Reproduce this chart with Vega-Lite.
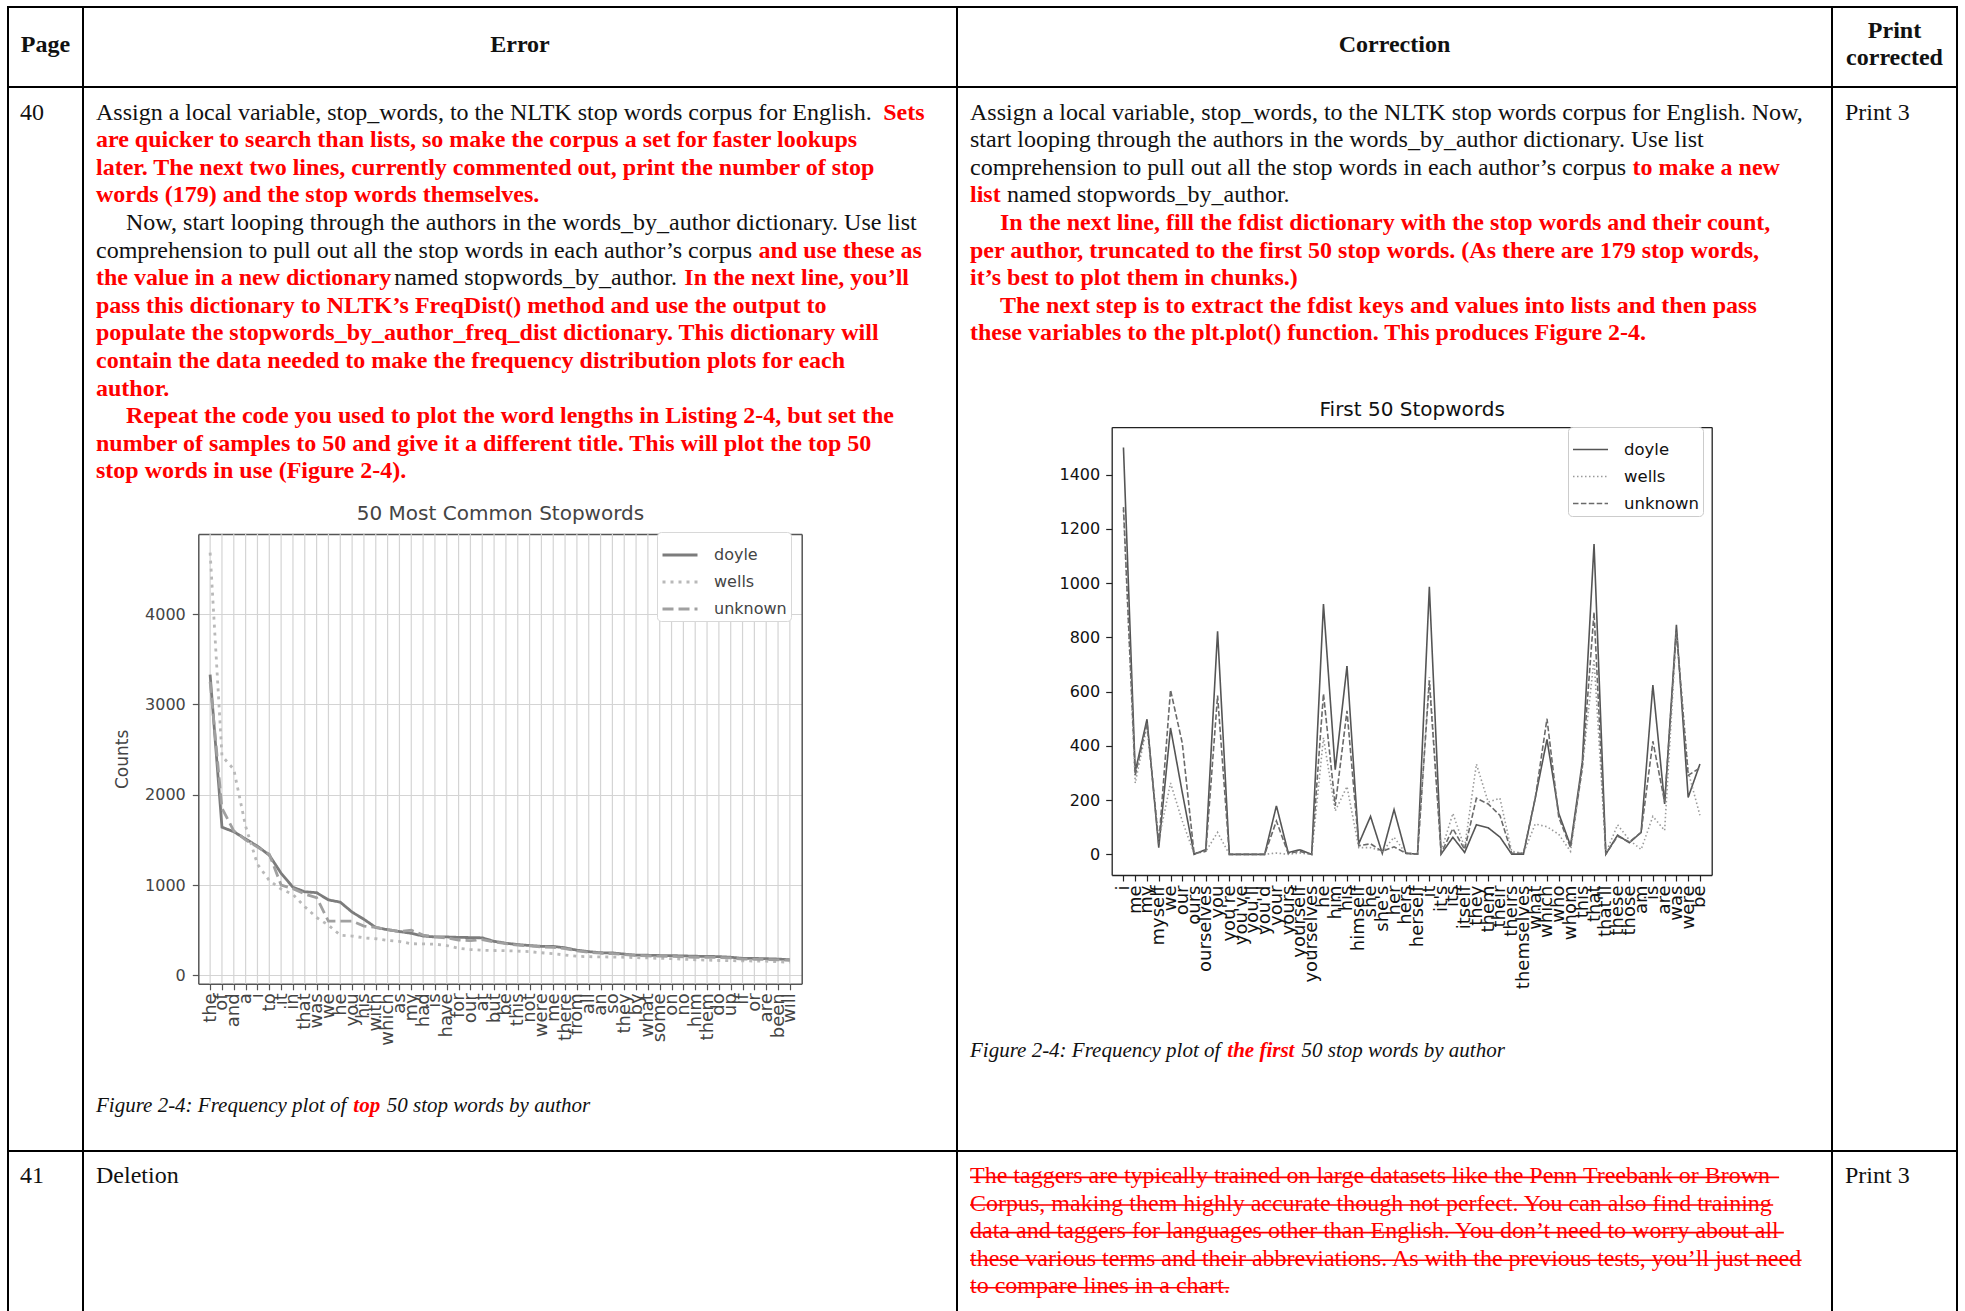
{
  "$schema": "https://vega.github.io/schema/vega-lite/v6.json",
  "background": "white",
  "padding": {"left": 7, "top": 6, "right": 0, "bottom": 0},
  "config": {
    "view": {"stroke": "#000", "strokeWidth": 2},
    "text": {"font": "Liberation Serif", "fontSize": 24, "align": "left", "baseline": "middle", "color": "#111"},
    "axis": {"labelFont": "DejaVu Sans", "titleFont": "DejaVu Sans"},
    "legend": {"labelFont": "DejaVu Sans"}
  },
  "resolve": {"scale": {"color": "independent", "strokeDash": "independent"}},
  "datasets": {
    "text": [
      {"cell": "hpage", "line": 1.5, "seg": 1, "kind": "head", "text": "Page"},
      {"cell": "herr", "line": 1.5, "seg": 1, "kind": "head", "text": "Error"},
      {"cell": "hcorr", "line": 1.5, "seg": 1, "kind": "head", "text": "Correction"},
      {"cell": "hprint", "line": 1, "seg": 1, "kind": "head", "text": "Print"},
      {"cell": "hprint", "line": 2, "seg": 1, "kind": "head", "text": "corrected"},
      {"cell": "p40", "line": 1, "seg": 1, "kind": "plain", "text": "40"},
      {"cell": "r40", "line": 1, "seg": 1, "kind": "plain", "text": "Print 3"},
      {"cell": "e40", "line": 1, "seg": 1, "kind": "plain", "text": "Assign a local variable, stop_words, to the NLTK stop words corpus for English."},
      {"cell": "e40", "line": 1, "seg": 2, "kind": "fix", "text": "Sets"},
      {"cell": "e40", "line": 2, "seg": 1, "kind": "fix", "text": "are quicker to search than lists, so make the corpus a set for faster lookups"},
      {"cell": "e40", "line": 3, "seg": 1, "kind": "fix", "text": "later. The next two lines, currently commented out, print the number of stop"},
      {"cell": "e40", "line": 4, "seg": 1, "kind": "fix", "text": "words (179) and the stop words themselves."},
      {"cell": "e40", "line": 5, "seg": 1, "kind": "plain", "indent": 1, "text": "Now, start looping through the authors in the words_by_author dictionary. Use list"},
      {"cell": "e40", "line": 6, "seg": 1, "kind": "plain", "text": "comprehension to pull out all the stop words in each author’s corpus"},
      {"cell": "e40", "line": 6, "seg": 2, "kind": "fix", "text": "and use these as"},
      {"cell": "e40", "line": 7, "seg": 1, "kind": "fix", "text": "the value in a new dictionary"},
      {"cell": "e40", "line": 7, "seg": 2, "kind": "plain", "text": "named stopwords_by_author."},
      {"cell": "e40", "line": 7, "seg": 3, "kind": "fix", "text": "In the next line, you’ll"},
      {"cell": "e40", "line": 8, "seg": 1, "kind": "fix", "text": "pass this dictionary to NLTK’s FreqDist() method and use the output to"},
      {"cell": "e40", "line": 9, "seg": 1, "kind": "fix", "text": "populate the stopwords_by_author_freq_dist dictionary. This dictionary will"},
      {"cell": "e40", "line": 10, "seg": 1, "kind": "fix", "text": "contain the data needed to make the frequency distribution plots for each"},
      {"cell": "e40", "line": 11, "seg": 1, "kind": "fix", "text": "author."},
      {"cell": "e40", "line": 12, "seg": 1, "kind": "fix", "indent": 1, "text": "Repeat the code you used to plot the word lengths in Listing 2-4, but set the"},
      {"cell": "e40", "line": 13, "seg": 1, "kind": "fix", "text": "number of samples to 50 and give it a different title. This will plot the top 50"},
      {"cell": "e40", "line": 14, "seg": 1, "kind": "fix", "text": "stop words in use (Figure 2-4)."},
      {"cell": "e40", "line": 37, "seg": 1, "kind": "cap", "text": "Figure 2-4: Frequency plot of"},
      {"cell": "e40", "line": 37, "seg": 2, "kind": "capfix", "text": "top"},
      {"cell": "e40", "line": 37, "seg": 3, "kind": "cap", "text": "50 stop words by author"},
      {"cell": "c40", "line": 1, "seg": 1, "kind": "plain", "text": "Assign a local variable, stop_words, to the NLTK stop words corpus for English. Now,"},
      {"cell": "c40", "line": 2, "seg": 1, "kind": "plain", "text": "start looping through the authors in the words_by_author dictionary. Use list"},
      {"cell": "c40", "line": 3, "seg": 1, "kind": "plain", "text": "comprehension to pull out all the stop words in each author’s corpus"},
      {"cell": "c40", "line": 3, "seg": 2, "kind": "fix", "text": "to make a new"},
      {"cell": "c40", "line": 4, "seg": 1, "kind": "fix", "text": "list"},
      {"cell": "c40", "line": 4, "seg": 2, "kind": "plain", "text": "named stopwords_by_author."},
      {"cell": "c40", "line": 5, "seg": 1, "kind": "fix", "indent": 1, "text": "In the next line, fill the fdist dictionary with the stop words and their count,"},
      {"cell": "c40", "line": 6, "seg": 1, "kind": "fix", "text": "per author, truncated to the first 50 stop words. (As there are 179 stop words,"},
      {"cell": "c40", "line": 7, "seg": 1, "kind": "fix", "text": "it’s best to plot them in chunks.)"},
      {"cell": "c40", "line": 8, "seg": 1, "kind": "fix", "indent": 1, "text": "The next step is to extract the fdist keys and values into lists and then pass"},
      {"cell": "c40", "line": 9, "seg": 1, "kind": "fix", "text": "these variables to the plt.plot() function. This produces Figure 2-4."},
      {"cell": "c40", "line": 35, "seg": 1, "kind": "cap", "text": "Figure 2-4: Frequency plot of"},
      {"cell": "c40", "line": 35, "seg": 2, "kind": "capfix", "text": "the first"},
      {"cell": "c40", "line": 35, "seg": 3, "kind": "cap", "text": "50 stop words by author"},
      {"cell": "p41", "line": 1, "seg": 1, "kind": "plain", "text": "41"},
      {"cell": "e41", "line": 1, "seg": 1, "kind": "plain", "text": "Deletion"},
      {"cell": "c41", "line": 1, "seg": 1, "kind": "del", "text": "The taggers are typically trained on large datasets like the Penn Treebank or Brown"},
      {"cell": "c41", "line": 2, "seg": 1, "kind": "del", "text": "Corpus, making them highly accurate though not perfect. You can also find training"},
      {"cell": "c41", "line": 3, "seg": 1, "kind": "del", "text": "data and taggers for languages other than English. You don’t need to worry about all"},
      {"cell": "c41", "line": 4, "seg": 1, "kind": "del", "text": "these various terms and their abbreviations. As with the previous tests, you’ll just need"},
      {"cell": "c41", "line": 5, "seg": 1, "kind": "del", "text": "to compare lines in a chart."},
      {"cell": "r41", "line": 1, "seg": 1, "kind": "plain", "text": "Print 3"}
    ],
    "chart1": [
      {"idx": 0, "word": "the", "doyle": 3330, "wells": 4680, "unknown": 3250},
      {"idx": 1, "word": "of", "doyle": 1640, "wells": 2430, "unknown": 1850},
      {"idx": 2, "word": "and", "doyle": 1590, "wells": 2280, "unknown": 1600},
      {"idx": 3, "word": "a", "doyle": 1510, "wells": 1650, "unknown": 1500},
      {"idx": 4, "word": "i", "doyle": 1430, "wells": 1230, "unknown": 1420},
      {"idx": 5, "word": "to", "doyle": 1330, "wells": 1050, "unknown": 1340},
      {"idx": 6, "word": "it", "doyle": 1130, "wells": 955, "unknown": 1000},
      {"idx": 7, "word": "in", "doyle": 975, "wells": 895, "unknown": 960},
      {"idx": 8, "word": "that", "doyle": 925, "wells": 760, "unknown": 900},
      {"idx": 9, "word": "was", "doyle": 915, "wells": 640, "unknown": 860},
      {"idx": 10, "word": "we", "doyle": 835, "wells": 555, "unknown": 600},
      {"idx": 11, "word": "he", "doyle": 810, "wells": 445, "unknown": 600},
      {"idx": 12, "word": "you", "doyle": 700, "wells": 435, "unknown": 600},
      {"idx": 13, "word": "his", "doyle": 620, "wells": 415, "unknown": 545},
      {"idx": 14, "word": "with", "doyle": 530, "wells": 405, "unknown": 530},
      {"idx": 15, "word": "which", "doyle": 505, "wells": 387, "unknown": 505},
      {"idx": 16, "word": "as", "doyle": 485, "wells": 375, "unknown": 485},
      {"idx": 17, "word": "my", "doyle": 465, "wells": 350, "unknown": 500},
      {"idx": 18, "word": "had", "doyle": 435, "wells": 348, "unknown": 445},
      {"idx": 19, "word": "is", "doyle": 425, "wells": 345, "unknown": 426},
      {"idx": 20, "word": "have", "doyle": 425, "wells": 330, "unknown": 414},
      {"idx": 21, "word": "for", "doyle": 420, "wells": 300, "unknown": 390},
      {"idx": 22, "word": "our", "doyle": 418, "wells": 285, "unknown": 385},
      {"idx": 23, "word": "at", "doyle": 415, "wells": 278, "unknown": 395},
      {"idx": 24, "word": "but", "doyle": 376, "wells": 275, "unknown": 370},
      {"idx": 25, "word": "be", "doyle": 356, "wells": 272, "unknown": 350},
      {"idx": 26, "word": "this", "doyle": 340, "wells": 268, "unknown": 335},
      {"idx": 27, "word": "not", "doyle": 330, "wells": 262, "unknown": 325},
      {"idx": 28, "word": "were", "doyle": 321, "wells": 250, "unknown": 315},
      {"idx": 29, "word": "me", "doyle": 320, "wells": 239, "unknown": 310},
      {"idx": 30, "word": "there", "doyle": 305, "wells": 225, "unknown": 295},
      {"idx": 31, "word": "from", "doyle": 278, "wells": 211, "unknown": 270},
      {"idx": 32, "word": "all", "doyle": 262, "wells": 206, "unknown": 255},
      {"idx": 33, "word": "an", "doyle": 250, "wells": 204, "unknown": 245},
      {"idx": 34, "word": "so", "doyle": 248, "wells": 202, "unknown": 240},
      {"idx": 35, "word": "they", "doyle": 235, "wells": 200, "unknown": 230},
      {"idx": 36, "word": "by", "doyle": 223, "wells": 196, "unknown": 220},
      {"idx": 37, "word": "what", "doyle": 222, "wells": 192, "unknown": 215},
      {"idx": 38, "word": "some", "doyle": 219, "wells": 188, "unknown": 212},
      {"idx": 39, "word": "on", "doyle": 218, "wells": 184, "unknown": 210},
      {"idx": 40, "word": "no", "doyle": 215, "wells": 178, "unknown": 205},
      {"idx": 41, "word": "him", "doyle": 211, "wells": 172, "unknown": 200},
      {"idx": 42, "word": "them", "doyle": 210, "wells": 168, "unknown": 200},
      {"idx": 43, "word": "do", "doyle": 207, "wells": 164, "unknown": 197},
      {"idx": 44, "word": "up", "doyle": 200, "wells": 162, "unknown": 192},
      {"idx": 45, "word": "if", "doyle": 188, "wells": 160, "unknown": 180},
      {"idx": 46, "word": "or", "doyle": 187, "wells": 158, "unknown": 178},
      {"idx": 47, "word": "are", "doyle": 184, "wells": 157, "unknown": 175},
      {"idx": 48, "word": "been", "doyle": 180, "wells": 150, "unknown": 172},
      {"idx": 49, "word": "will", "doyle": 172, "wells": 145, "unknown": 165}
    ],
    "chart2": [
      {"idx": 0, "word": "i", "doyle": 1500, "wells": 1270, "unknown": 1280},
      {"idx": 1, "word": "me", "doyle": 305, "wells": 263, "unknown": 291},
      {"idx": 2, "word": "my", "doyle": 498, "wells": 473, "unknown": 487},
      {"idx": 3, "word": "myself", "doyle": 25, "wells": 53, "unknown": 39},
      {"idx": 4, "word": "we", "doyle": 466, "wells": 263, "unknown": 606},
      {"idx": 5, "word": "our", "doyle": 228, "wells": 123, "unknown": 410},
      {"idx": 6, "word": "ours", "doyle": 0, "wells": 4, "unknown": 4},
      {"idx": 7, "word": "ourselves", "doyle": 18, "wells": 11, "unknown": 11},
      {"idx": 8, "word": "you", "doyle": 822, "wells": 81, "unknown": 585},
      {"idx": 9, "word": "you're", "doyle": 0, "wells": 0, "unknown": 0},
      {"idx": 10, "word": "you've", "doyle": 0, "wells": 0, "unknown": 0},
      {"idx": 11, "word": "you'll", "doyle": 0, "wells": 0, "unknown": 0},
      {"idx": 12, "word": "you'd", "doyle": 0, "wells": 0, "unknown": 0},
      {"idx": 13, "word": "your", "doyle": 179, "wells": 5, "unknown": 123},
      {"idx": 14, "word": "yours", "doyle": 7, "wells": 0, "unknown": 4},
      {"idx": 15, "word": "yourself", "doyle": 17, "wells": 5, "unknown": 11},
      {"idx": 16, "word": "yourselves", "doyle": 0, "wells": 0, "unknown": 0},
      {"idx": 17, "word": "he", "doyle": 923, "wells": 430, "unknown": 592},
      {"idx": 18, "word": "him", "doyle": 312, "wells": 160, "unknown": 179},
      {"idx": 19, "word": "his", "doyle": 694, "wells": 250, "unknown": 529},
      {"idx": 20, "word": "himself", "doyle": 39, "wells": 25, "unknown": 32},
      {"idx": 21, "word": "she", "doyle": 140, "wells": 25, "unknown": 39},
      {"idx": 22, "word": "she's", "doyle": 4, "wells": 11, "unknown": 11},
      {"idx": 23, "word": "her", "doyle": 165, "wells": 63, "unknown": 28},
      {"idx": 24, "word": "hers", "doyle": 4, "wells": 4, "unknown": 4},
      {"idx": 25, "word": "herself", "doyle": 1, "wells": 1, "unknown": 1},
      {"idx": 26, "word": "it", "doyle": 986, "wells": 654, "unknown": 640},
      {"idx": 27, "word": "it's", "doyle": 1, "wells": 11, "unknown": 4},
      {"idx": 28, "word": "its", "doyle": 63, "wells": 151, "unknown": 95},
      {"idx": 29, "word": "itself", "doyle": 7, "wells": 25, "unknown": 18},
      {"idx": 30, "word": "they", "doyle": 109, "wells": 333, "unknown": 207},
      {"idx": 31, "word": "them", "doyle": 98, "wells": 193, "unknown": 186},
      {"idx": 32, "word": "their", "doyle": 64, "wells": 207, "unknown": 144},
      {"idx": 33, "word": "theirs", "doyle": 1, "wells": 11, "unknown": 4},
      {"idx": 34, "word": "themselves", "doyle": 1, "wells": 4, "unknown": 4},
      {"idx": 35, "word": "what", "doyle": 207, "wells": 112, "unknown": 207},
      {"idx": 36, "word": "which", "doyle": 424, "wells": 102, "unknown": 500},
      {"idx": 37, "word": "who", "doyle": 151, "wells": 74, "unknown": 137},
      {"idx": 38, "word": "whom", "doyle": 32, "wells": 11, "unknown": 25},
      {"idx": 39, "word": "this", "doyle": 340, "wells": 319, "unknown": 319},
      {"idx": 40, "word": "that", "doyle": 1144, "wells": 720, "unknown": 892},
      {"idx": 41, "word": "that'll", "doyle": 1, "wells": 4, "unknown": 1},
      {"idx": 42, "word": "these", "doyle": 71, "wells": 109, "unknown": 67},
      {"idx": 43, "word": "those", "doyle": 43, "wells": 53, "unknown": 46},
      {"idx": 44, "word": "am", "doyle": 81, "wells": 18, "unknown": 81},
      {"idx": 45, "word": "is", "doyle": 624, "wells": 140, "unknown": 417},
      {"idx": 46, "word": "are", "doyle": 186, "wells": 88, "unknown": 193},
      {"idx": 47, "word": "was", "doyle": 846, "wells": 822, "unknown": 822},
      {"idx": 48, "word": "were", "doyle": 210, "wells": 305, "unknown": 291},
      {"idx": 49, "word": "be", "doyle": 333, "wells": 144, "unknown": 319}
    ]
  },
  "columns": 4,
  "spacing": 0,
  "bounds": "flush",
  "concat": [
    {"width": 75, "height": 80, "data": {"name": "text"}, "transform": [{"filter": "datum.cell == 'hpage'"}],
     "mark": {"type": "text", "align": "center", "fontWeight": "bold"},
     "encoding": {"x": {"datum": 0.5, "type": "quantitative", "scale": {"domain": [0, 1], "range": [0, 75]}, "axis": null},
                  "y": {"field": "line", "type": "quantitative", "scale": {"domain": [1, 2], "range": [24, 51], "nice": false, "zero": false}, "axis": null},
                  "text": {"field": "text"}}},
    {"width": 874, "height": 80, "data": {"name": "text"}, "transform": [{"filter": "datum.cell == 'herr'"}],
     "mark": {"type": "text", "align": "center", "fontWeight": "bold"},
     "encoding": {"x": {"datum": 0.5, "type": "quantitative", "scale": {"domain": [0, 1], "range": [0, 874]}, "axis": null},
                  "y": {"field": "line", "type": "quantitative", "scale": {"domain": [1, 2], "range": [24, 51], "nice": false, "zero": false}, "axis": null},
                  "text": {"field": "text"}}},
    {"width": 875, "height": 80, "data": {"name": "text"}, "transform": [{"filter": "datum.cell == 'hcorr'"}],
     "mark": {"type": "text", "align": "center", "fontWeight": "bold"},
     "encoding": {"x": {"datum": 0.5, "type": "quantitative", "scale": {"domain": [0, 1], "range": [0, 875]}, "axis": null},
                  "y": {"field": "line", "type": "quantitative", "scale": {"domain": [1, 2], "range": [24, 51], "nice": false, "zero": false}, "axis": null},
                  "text": {"field": "text"}}},
    {"width": 125, "height": 80, "data": {"name": "text"}, "transform": [{"filter": "datum.cell == 'hprint'"}],
     "mark": {"type": "text", "align": "center", "fontWeight": "bold"},
     "encoding": {"x": {"datum": 0.5, "type": "quantitative", "scale": {"domain": [0, 1], "range": [0, 125]}, "axis": null},
                  "y": {"field": "line", "type": "quantitative", "scale": {"domain": [1, 2], "range": [24, 51], "nice": false, "zero": false}, "axis": null},
                  "text": {"field": "text"}}},

    {"width": 75, "height": 1064, "data": {"name": "text"}, "transform": [{"filter": "datum.cell == 'p40'"}],
     "mark": {"type": "text"},
     "encoding": {"x": {"datum": 0, "type": "quantitative", "scale": {"domain": [0, 1], "range": [12, 36]}, "axis": null},
                  "y": {"field": "line", "type": "quantitative", "scale": {"domain": [1, 2], "range": [25.5, 53.1], "nice": false, "zero": false}, "axis": null},
                  "text": {"field": "text"}}},
    {
      "width": 874, "height": 1064,
      "resolve": {"scale": {"x": "independent", "y": "independent"}},
      "layer": [
        {
          "data": {"name": "text"},
          "transform": [
            {"filter": "datum.cell == 'e40'"},
            {"calculate": "length(datum.text)", "as": "n"},
            {"calculate": "length(replace(datum.text, regexp('[^ .,]', 'g'), ''))", "as": "cA"},
            {"calculate": "length(replace(datum.text, regexp('[^ijlt:;]', 'g'), ''))", "as": "cB"},
            {"calculate": "length(replace(datum.text, regexp('[^fr()’I-]', 'g'), ''))", "as": "cC"},
            {"calculate": "length(replace(datum.text, regexp('[^s]', 'g'), ''))", "as": "cD"},
            {"calculate": "length(replace(datum.text, regexp('[^acez]', 'g'), ''))", "as": "cE"},
            {"calculate": "length(replace(datum.text, regexp('[^mw]', 'g'), ''))", "as": "cW"},
            {"calculate": "length(replace(datum.text, regexp('[^A-HJ-Z]', 'g'), ''))", "as": "cK"},
            {"calculate": "datum.n - datum.cA - datum.cB - datum.cC - datum.cD - datum.cE - datum.cW - datum.cK", "as": "cR"},
            {"calculate": "datum.kind == 'fix' ? 0.25*datum.cA + 0.3*datum.cB + 0.36*datum.cC + 0.389*datum.cD + 0.46*datum.cE + 0.78*datum.cW + 0.72*datum.cK + 0.53*datum.cR : datum.kind == 'cap' ? 0.875*(0.25*datum.cA + 0.278*datum.cB + 0.35*datum.cC + 0.389*datum.cD + 0.46*datum.cE + 0.69*datum.cW + 0.63*datum.cK + 0.49*datum.cR) : datum.kind == 'capfix' ? 0.875*(0.25*datum.cA + 0.3*datum.cB + 0.37*datum.cC + 0.389*datum.cD + 0.48*datum.cE + 0.75*datum.cW + 0.67*datum.cK + 0.52*datum.cR) : 0.25*datum.cA + 0.278*datum.cB + 0.333*datum.cC + 0.389*datum.cD + 0.444*datum.cE + 0.75*datum.cW + 0.68*datum.cK + 0.5*datum.cR", "as": "tw"},
            {"calculate": "datum.tw + (datum.kind == 'cap' || datum.kind == 'capfix' ? 0.22 : 0.25)", "as": "w"},
            {"window": [{"op": "sum", "field": "w", "as": "cum"}], "groupby": ["line"], "sort": [{"field": "seg", "order": "ascending"}], "frame": [null, 0]},
            {"calculate": "datum.cum - datum.w + (datum.indent ? 1.25 : 0)", "as": "start"}
          ],
          "encoding": {
            "x": {"field": "start", "type": "quantitative", "scale": {"domain": [0, 1], "range": [13, 37], "nice": false, "zero": false}, "axis": null},
            "y": {"field": "line", "type": "quantitative", "scale": {"domain": [1, 2], "range": [25.5, 53.1], "nice": false, "zero": false}, "axis": null},
            "text": {"field": "text"}
          },
          "layer": [
            {"transform": [{"filter": "datum.kind == 'plain'"}], "mark": {"type": "text"}},
            {"transform": [{"filter": "datum.kind == 'fix'"}], "mark": {"type": "text", "fontWeight": "bold", "color": "#ff0000"}},
            {"transform": [{"filter": "datum.kind == 'cap'"}], "mark": {"type": "text", "fontSize": 21, "fontStyle": "italic"}},
            {"transform": [{"filter": "datum.kind == 'capfix'"}], "mark": {"type": "text", "fontSize": 21, "fontStyle": "italic", "fontWeight": "bold", "color": "#ff0000"}}
          ]
        },
        {
          "data": {"name": "chart1"},
          "transform": [{"calculate": "-94", "as": "lo"}, {"calculate": "4888", "as": "hi"}],
          "mark": {"type": "rule", "color": "#d4d4d4", "strokeWidth": 1.2},
          "encoding": {
            "x": {"field": "word", "type": "ordinal", "sort": {"field": "idx", "op": "min"}, "scale": {"type": "point", "range": [115.3, 718.7], "padding": 2.45}, "axis": null},
            "y": {"field": "lo", "type": "quantitative", "scale": {"domain": [-94, 4888], "range": [896.8, 446.9], "nice": false, "zero": false}, "axis": null},
            "y2": {"field": "hi"}
          }
        },
        {
          "data": {"name": "chart1"},
          "transform": [{"fold": ["doyle", "wells", "unknown"], "as": ["author", "count"]}],
          "mark": {"type": "line", "strokeWidth": 2.8},
          "encoding": {
            "x": {"field": "word", "type": "ordinal", "sort": {"field": "idx", "op": "min"},
                  "scale": {"type": "point", "range": [115.3, 718.7], "padding": 2.45},
                  "axis": {"orient": "bottom", "offset": -167.2, "title": null, "labelAngle": -90, "labelFontSize": 18, "labelColor": "#444", "labelPadding": 3, "labelOverlap": false, "labelBound": false, "labelFlush": false, "tickColor": "#555", "tickSize": 6, "tickWidth": 1.2, "domainColor": "#555", "domainWidth": 1.5, "grid": false}},
            "y": {"field": "count", "type": "quantitative",
                  "scale": {"domain": [-94, 4888], "range": [896.8, 446.9], "nice": false, "zero": false},
                  "axis": {"orient": "left", "offset": -115.3, "values": [0, 1000, 2000, 3000, 4000], "format": "d", "title": "Counts", "titleFontSize": 17, "titleFontWeight": "normal", "titleColor": "#444", "titlePadding": 13, "labelFontSize": 16, "labelColor": "#444", "labelPadding": 7, "tickColor": "#555", "tickSize": 6, "tickWidth": 1.2, "domainColor": "#555", "domainWidth": 1.5, "grid": true, "gridColor": "#d4d4d4", "gridWidth": 1.2}},
            "order": {"field": "idx", "type": "quantitative"},
            "color": {"field": "author", "type": "nominal",
                      "scale": {"domain": ["doyle", "wells", "unknown"], "range": ["#7c7c7c", "#b9b9b9", "#a0a0a0"]},
                      "legend": {"title": null, "orient": "none", "legendX": 574, "legendY": 445, "labelFontSize": 16, "labelColor": "#444", "symbolType": "stroke", "symbolSize": 1225, "symbolStrokeWidth": 2.8, "strokeColor": "#d8d8d8", "fillColor": "#ffffff", "padding": 4, "cornerRadius": 4, "rowPadding": 0, "labelOffset": 15}},
            "strokeDash": {"field": "author", "type": "nominal",
                           "scale": {"domain": ["doyle", "wells", "unknown"], "range": [[1, 0], [3, 5], [11, 5]]},
                           "legend": {"title": null, "orient": "none", "legendX": 574, "legendY": 445, "labelFontSize": 16, "labelColor": "#444", "symbolType": "stroke", "symbolSize": 1225, "symbolStrokeWidth": 2.8, "strokeColor": "#d8d8d8", "fillColor": "#ffffff", "padding": 4, "cornerRadius": 4, "rowPadding": 0, "labelOffset": 15}}
          }
        },
        {
          "data": {"name": "chart1"},
          "mark": {"type": "point", "opacity": 0},
          "encoding": {
            "x": {"field": "word", "type": "ordinal", "sort": {"field": "idx", "op": "min"},
                  "scale": {"type": "point", "range": [115.3, 718.7], "padding": 2.45},
                  "axis": {"orient": "top", "offset": -446.9, "labels": false, "ticks": false, "grid": false, "domainColor": "#555", "domainWidth": 1.5, "title": "50 Most Common Stopwords", "titleFontSize": 20, "titleFontWeight": "normal", "titleColor": "#444", "titlePadding": 10}},
            "y": {"field": "doyle", "type": "quantitative",
                  "scale": {"domain": [-94, 4888], "range": [896.8, 446.9], "nice": false, "zero": false},
                  "axis": {"orient": "right", "offset": -155.3, "labels": false, "ticks": false, "grid": false, "domainColor": "#555", "domainWidth": 1.5, "title": null}}
          }
        }
      ]
    },
    {
      "width": 875, "height": 1064,
      "resolve": {"scale": {"x": "independent", "y": "independent"}},
      "layer": [
        {
          "data": {"name": "text"},
          "transform": [
            {"filter": "datum.cell == 'c40'"},
            {"calculate": "length(datum.text)", "as": "n"},
            {"calculate": "length(replace(datum.text, regexp('[^ .,]', 'g'), ''))", "as": "cA"},
            {"calculate": "length(replace(datum.text, regexp('[^ijlt:;]', 'g'), ''))", "as": "cB"},
            {"calculate": "length(replace(datum.text, regexp('[^fr()’I-]', 'g'), ''))", "as": "cC"},
            {"calculate": "length(replace(datum.text, regexp('[^s]', 'g'), ''))", "as": "cD"},
            {"calculate": "length(replace(datum.text, regexp('[^acez]', 'g'), ''))", "as": "cE"},
            {"calculate": "length(replace(datum.text, regexp('[^mw]', 'g'), ''))", "as": "cW"},
            {"calculate": "length(replace(datum.text, regexp('[^A-HJ-Z]', 'g'), ''))", "as": "cK"},
            {"calculate": "datum.n - datum.cA - datum.cB - datum.cC - datum.cD - datum.cE - datum.cW - datum.cK", "as": "cR"},
            {"calculate": "datum.kind == 'fix' ? 0.25*datum.cA + 0.3*datum.cB + 0.36*datum.cC + 0.389*datum.cD + 0.46*datum.cE + 0.78*datum.cW + 0.72*datum.cK + 0.53*datum.cR : datum.kind == 'cap' ? 0.875*(0.25*datum.cA + 0.278*datum.cB + 0.35*datum.cC + 0.389*datum.cD + 0.46*datum.cE + 0.69*datum.cW + 0.63*datum.cK + 0.49*datum.cR) : datum.kind == 'capfix' ? 0.875*(0.25*datum.cA + 0.3*datum.cB + 0.37*datum.cC + 0.389*datum.cD + 0.48*datum.cE + 0.75*datum.cW + 0.67*datum.cK + 0.52*datum.cR) : 0.25*datum.cA + 0.278*datum.cB + 0.333*datum.cC + 0.389*datum.cD + 0.444*datum.cE + 0.75*datum.cW + 0.68*datum.cK + 0.5*datum.cR", "as": "tw"},
            {"calculate": "datum.tw + (datum.kind == 'cap' || datum.kind == 'capfix' ? 0.22 : 0.25)", "as": "w"},
            {"window": [{"op": "sum", "field": "w", "as": "cum"}], "groupby": ["line"], "sort": [{"field": "seg", "order": "ascending"}], "frame": [null, 0]},
            {"calculate": "datum.cum - datum.w + (datum.indent ? 1.25 : 0)", "as": "start"}
          ],
          "encoding": {
            "x": {"field": "start", "type": "quantitative", "scale": {"domain": [0, 1], "range": [13, 37], "nice": false, "zero": false}, "axis": null},
            "y": {"field": "line", "type": "quantitative", "scale": {"domain": [1, 2], "range": [25.5, 53.1], "nice": false, "zero": false}, "axis": null},
            "text": {"field": "text"}
          },
          "layer": [
            {"transform": [{"filter": "datum.kind == 'plain'"}], "mark": {"type": "text"}},
            {"transform": [{"filter": "datum.kind == 'fix'"}], "mark": {"type": "text", "fontWeight": "bold", "color": "#ff0000"}},
            {"transform": [{"filter": "datum.kind == 'cap'"}], "mark": {"type": "text", "fontSize": 21, "fontStyle": "italic"}},
            {"transform": [{"filter": "datum.kind == 'capfix'"}], "mark": {"type": "text", "fontSize": 21, "fontStyle": "italic", "fontWeight": "bold", "color": "#ff0000"}}
          ]
        },
        {
          "data": {"name": "chart2"},
          "transform": [{"fold": ["doyle", "wells", "unknown"], "as": ["author", "count"]}],
          "mark": {"type": "line", "strokeWidth": 1.6},
          "encoding": {
            "x": {"field": "word", "type": "ordinal", "sort": {"field": "idx", "op": "min"},
                  "scale": {"type": "point", "range": [154.7, 754.7], "padding": 2.45},
                  "axis": {"orient": "bottom", "offset": -276, "title": null, "labelAngle": -90, "labelFontSize": 18, "labelColor": "#111", "labelPadding": 4, "labelOverlap": false, "labelBound": false, "labelFlush": false, "tickColor": "#222", "tickSize": 6, "tickWidth": 1.2, "domainColor": "#222", "domainWidth": 1.3, "grid": false}},
            "y": {"field": "count", "type": "quantitative",
                  "scale": {"domain": [-76, 1575], "range": [788, 340.1], "nice": false, "zero": false},
                  "axis": {"orient": "left", "offset": -154.7, "values": [0, 200, 400, 600, 800, 1000, 1200, 1400], "format": "d", "title": null, "labelFontSize": 16, "labelColor": "#111", "labelPadding": 6, "tickColor": "#222", "tickSize": 6, "tickWidth": 1.2, "domainColor": "#222", "domainWidth": 1.3, "grid": false}},
            "order": {"field": "idx", "type": "quantitative"},
            "color": {"field": "author", "type": "nominal",
                      "scale": {"domain": ["doyle", "wells", "unknown"], "range": ["#555555", "#9a9a9a", "#6a6a6a"]},
                      "legend": {"title": null, "orient": "none", "legendX": 611, "legendY": 340, "labelFontSize": 16.5, "labelColor": "#111", "symbolType": "stroke", "symbolSize": 1225, "symbolStrokeWidth": 1.6, "strokeColor": "#cccccc", "fillColor": "#ffffff", "padding": 4, "cornerRadius": 4, "rowPadding": 0, "labelOffset": 15}},
            "strokeDash": {"field": "author", "type": "nominal",
                           "scale": {"domain": ["doyle", "wells", "unknown"], "range": [[1, 0], [1.5, 2.5], [5.5, 2.4]]},
                           "legend": {"title": null, "orient": "none", "legendX": 611, "legendY": 340, "labelFontSize": 16.5, "labelColor": "#111", "symbolType": "stroke", "symbolSize": 1225, "symbolStrokeWidth": 1.6, "strokeColor": "#cccccc", "fillColor": "#ffffff", "padding": 4, "cornerRadius": 4, "rowPadding": 0, "labelOffset": 15}}
          }
        },
        {
          "data": {"name": "chart2"},
          "mark": {"type": "point", "opacity": 0},
          "encoding": {
            "x": {"field": "word", "type": "ordinal", "sort": {"field": "idx", "op": "min"},
                  "scale": {"type": "point", "range": [154.7, 754.7], "padding": 2.45},
                  "axis": {"orient": "top", "offset": -340.1, "labels": false, "ticks": false, "grid": false, "domainColor": "#222", "domainWidth": 1.3, "title": "First 50 Stopwords", "titleFontSize": 20, "titleFontWeight": "normal", "titleColor": "#111", "titlePadding": 8}},
            "y": {"field": "doyle", "type": "quantitative",
                  "scale": {"domain": [-76, 1575], "range": [788, 340.1], "nice": false, "zero": false},
                  "axis": {"orient": "right", "offset": -120.3, "labels": false, "ticks": false, "grid": false, "domainColor": "#222", "domainWidth": 1.3, "title": null}}
          }
        }
      ]
    },
    {"width": 125, "height": 1064, "data": {"name": "text"}, "transform": [{"filter": "datum.cell == 'r40'"}],
     "mark": {"type": "text"},
     "encoding": {"x": {"datum": 0, "type": "quantitative", "scale": {"domain": [0, 1], "range": [13, 37]}, "axis": null},
                  "y": {"field": "line", "type": "quantitative", "scale": {"domain": [1, 2], "range": [25.5, 53.1], "nice": false, "zero": false}, "axis": null},
                  "text": {"field": "text"}}},

    {"width": 75, "height": 170, "data": {"name": "text"}, "transform": [{"filter": "datum.cell == 'p41'"}],
     "mark": {"type": "text"},
     "encoding": {"x": {"datum": 0, "type": "quantitative", "scale": {"domain": [0, 1], "range": [12, 36]}, "axis": null},
                  "y": {"field": "line", "type": "quantitative", "scale": {"domain": [1, 2], "range": [25, 52.6], "nice": false, "zero": false}, "axis": null},
                  "text": {"field": "text"}}},
    {"width": 874, "height": 170, "data": {"name": "text"}, "transform": [{"filter": "datum.cell == 'e41'"}],
     "mark": {"type": "text"},
     "encoding": {"x": {"datum": 0, "type": "quantitative", "scale": {"domain": [0, 1], "range": [13, 37]}, "axis": null},
                  "y": {"field": "line", "type": "quantitative", "scale": {"domain": [1, 2], "range": [25, 52.6], "nice": false, "zero": false}, "axis": null},
                  "text": {"field": "text"}}},
    {
      "width": 875, "height": 170,
      "data": {"name": "text"},
      "transform": [
        {"filter": "datum.cell == 'c41'"},
        {"calculate": "length(datum.text)", "as": "n"},
        {"calculate": "length(replace(datum.text, regexp('[^ .,]', 'g'), ''))", "as": "cA"},
        {"calculate": "length(replace(datum.text, regexp('[^ijlt:;]', 'g'), ''))", "as": "cB"},
        {"calculate": "length(replace(datum.text, regexp('[^fr()’I-]', 'g'), ''))", "as": "cC"},
        {"calculate": "length(replace(datum.text, regexp('[^s]', 'g'), ''))", "as": "cD"},
        {"calculate": "length(replace(datum.text, regexp('[^acez]', 'g'), ''))", "as": "cE"},
        {"calculate": "length(replace(datum.text, regexp('[^mw]', 'g'), ''))", "as": "cW"},
        {"calculate": "length(replace(datum.text, regexp('[^A-HJ-Z]', 'g'), ''))", "as": "cK"},
        {"calculate": "datum.n - datum.cA - datum.cB - datum.cC - datum.cD - datum.cE - datum.cW - datum.cK", "as": "cR"},
        {"calculate": "0.25*datum.cA + 0.278*datum.cB + 0.333*datum.cC + 0.389*datum.cD + 0.444*datum.cE + 0.75*datum.cW + 0.68*datum.cK + 0.5*datum.cR", "as": "tw"},
        {"calculate": "0", "as": "x0"},
        {"calculate": "datum.line + 0.05", "as": "strike"}
      ],
      "encoding": {
        "x": {"field": "x0", "type": "quantitative", "scale": {"domain": [0, 1], "range": [13, 37], "nice": false, "zero": false}, "axis": null},
        "y": {"field": "line", "type": "quantitative", "scale": {"domain": [1, 2], "range": [25, 52.6], "nice": false, "zero": false}, "axis": null}
      },
      "layer": [
        {"mark": {"type": "text", "color": "#ff0000"}, "encoding": {"text": {"field": "text"}}},
        {"mark": {"type": "rule", "color": "#ff0000", "strokeWidth": 1.6},
         "encoding": {"x2": {"field": "tw"}, "y": {"field": "strike", "type": "quantitative"}}}
      ]
    },
    {"width": 125, "height": 170, "data": {"name": "text"}, "transform": [{"filter": "datum.cell == 'r41'"}],
     "mark": {"type": "text"},
     "encoding": {"x": {"datum": 0, "type": "quantitative", "scale": {"domain": [0, 1], "range": [13, 37]}, "axis": null},
                  "y": {"field": "line", "type": "quantitative", "scale": {"domain": [1, 2], "range": [25, 52.6], "nice": false, "zero": false}, "axis": null},
                  "text": {"field": "text"}}}
  ]
}
